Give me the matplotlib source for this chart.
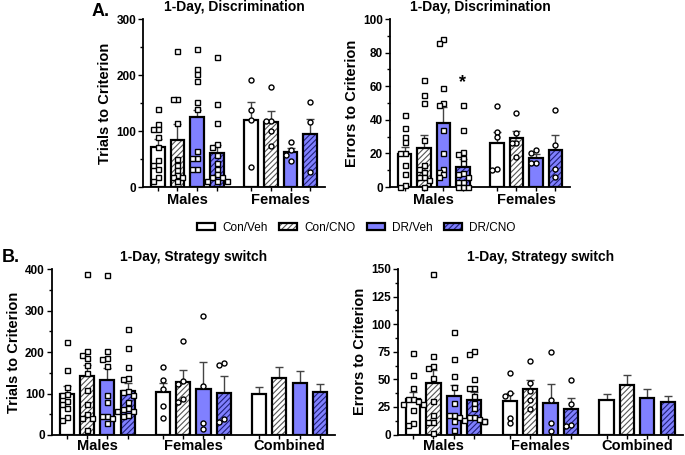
import matplotlib.pyplot as plt
from matplotlib.patches import Patch
from matplotlib.ticker import MultipleLocator

plt.rcParams['font.family'] = ['Liberation Sans', 'DejaVu Sans']
plt.rcParams['font.weight'] = 'bold'
plt.rcParams['axes.labelweight'] = 'bold'
plt.rcParams['hatch.linewidth'] = 0.8

conditions = ['Con/Veh', 'Con/CNO', 'DR/Veh', 'DR/CNO']
groups_a = ['Males', 'Females']
groups_b = ['Males', 'Females', 'Combined']

# A. 1-Day, Discrimination - trials to criterion
disc_trials_mean = [[72, 84, 125, 60], [120, 117, 62, 94]]
disc_trials_sem = [[14, 28, 13, 15], [32, 18, 7, 27]]
disc_trials_pts = [
    [[139, 112, 103, 103, 90, 72, 48, 40, 33, 17, 11],
     [243, 157, 157, 114, 50, 40, 30, 21, 18, 18, 10],
     [246, 211, 202, 190, 151, 139, 64, 52, 52, 33, 33],
     [233, 148, 114, 76, 72, 57, 43, 32, 23, 18, 17, 11, 11, 10]],
    [[191, 137, 120, 35],
     [179, 118, 118, 100, 74],
     [80, 66, 58, 46],
     [151, 117, 27]],
]

# A. 1-Day, Discrimination - errors to criterion
disc_errors_mean = [[19.5, 23.5, 38, 12], [26, 29, 17, 22]]
disc_errors_sem = [[4.5, 7.5, 9.5, 4.5], [7, 4.5, 2.5, 9]]
disc_errors_pts = [
    [[43, 35, 30, 27, 20, 20, 13, 8, 1, 0],
     [64, 55, 50, 28, 13, 11, 9, 6, 6, 4, 0],
     [88, 86, 59, 50, 49, 34, 20, 11, 9, 8, 6],
     [49, 34, 21, 19.5, 17.5, 14, 8.5, 8, 6, 3, 3, 0, 0, 0]],
    [[48, 33, 30, 11, 10],
     [44, 32, 26, 26, 18],
     [22, 20, 14, 14],
     [46, 25, 11, 6]],
]

# B. 1-Day, Strategy switch - trials to criterion
switch_trials_mean = [[99, 143, 132, 107], [103, 129, 112, 102], [100, 138, 126, 105]]
switch_trials_sem = [[20, 27, 30, 18], [22, 28, 64, 41], [15, 25, 29, 17]]
switch_trials_pts = [
    [[224, 157, 117, 100, 96, 82, 76, 66, 43, 36],
     [389, 204, 194, 187, 169, 149, 109, 75, 51, 42, 40, 12],
     [386, 202, 186, 184, 167, 97, 79, 45, 45, 40, 29],
     [256, 211, 164, 137, 136, 106, 103, 97, 79, 65, 63, 57, 57, 48, 45]],
    [[164, 132, 112, 71, 41],
     [227, 130, 124, 86, 79],
     [287, 119, 29, 14],
     [175, 168, 38, 31]],
    [[], [], [], []],
]

# B. 1-Day, Strategy switch - errors to criterion
switch_errors_mean = [[32.5, 46.5, 35, 31.5], [30, 41, 29, 23], [31, 45, 33, 29.5]]
switch_errors_sem = [[6, 12, 9.5, 7], [8, 8, 17, 10], [6, 9, 8, 5.5]]
switch_errors_pts = [
    [[74, 54, 42, 32, 32, 30, 28, 28, 22, 10, 9],
     [145, 71, 62, 60, 51, 30, 18, 11, 11, 1.5],
     [93, 68, 53, 43, 29, 18, 18, 16, 12, 4],
     [76, 73, 50, 42, 42, 35, 29, 24, 16, 16, 14, 13, 12, 12]],
    [[56, 38, 35, 15, 10],
     [67, 47, 39, 31, 23],
     [75, 31, 10, 3.5],
     [49, 28, 9, 8]],
    [[], [], [], []],
]

BLUE = '#8080ff'
face = ['white', 'white', BLUE, BLUE]
hatch = [None, '//////', None, '//////']
hatch_col = ['black', '#555555', 'black', '#20207a']
GAP = 4.75
WIDTH = 0.7


def swarm(vals, thresh, step=0.25):
    placed = []
    offs = []
    for v in vals:
        for c in [0, -step, step, -2 * step, 2 * step]:
            if all(abs(v - pv) >= thresh or abs(c - po) >= step * 0.5 for pv, po in placed):
                break
        placed.append((v, c))
        offs.append(c)
    return offs


def draw_panel(ax, groups, means, sems, pts, ymax, major, minor, ylabel, title, xpad):
    ticks = []
    for g, grp in enumerate(groups):
        marker = 's' if grp == 'Males' else 'o'
        for i in range(4):
            x = g * GAP + i
            ticks.append(x)
            m = means[g][i]
            ax.errorbar(x, m, yerr=[[0], [sems[g][i]]], color='#444444', lw=1,
                        capsize=3, capthick=1, zorder=1.5)
            ax.bar(x, m, WIDTH, color=face[i], hatch=hatch[i],
                   edgecolor=hatch_col[i], linewidth=0, zorder=2)
            ax.bar(x, m, WIDTH, fill=False, edgecolor='black', linewidth=1.6, zorder=3)
            vals = pts[g][i]
            if vals:
                offs = swarm(vals, ymax * 0.028)
                ax.plot([x + o for o in offs], vals, marker, ms=3.6, mfc='white',
                        mec='black', mew=1.0, ls='none', zorder=4, clip_on=False)
    ax.set_xlim(-0.75, (len(groups) - 1) * GAP + 3.75)
    ax.set_ylim(0, ymax)
    ax.set_xticks(ticks, labels=[''] * len(ticks))
    ax.set_xticks([g * GAP + 1.5 for g in range(len(groups))], labels=groups, minor=True)
    ax.tick_params(axis='x', which='minor', length=0, labelsize=10.5, pad=xpad)
    ax.tick_params(axis='x', which='major', length=3, width=1)
    ax.yaxis.set_major_locator(MultipleLocator(major))
    ax.yaxis.set_minor_locator(MultipleLocator(minor))
    ax.tick_params(axis='y', which='major', length=3.5, width=1, labelsize=8.5, pad=1.5)
    ax.tick_params(axis='y', which='minor', length=2.5, width=1)
    for lbl in ax.get_yticklabels() + ax.get_xticklabels(minor=True):
        lbl.set_fontweight('bold')
    for s in ['top', 'right']:
        ax.spines[s].set_visible(False)
    for s in ['left', 'bottom']:
        ax.spines[s].set_linewidth(1.3)
    ax.set_ylabel(ylabel, fontsize=10.5, fontweight='bold', labelpad=3)
    ax.set_title(title, fontsize=10, fontweight='bold', pad=6)


fig = plt.figure(figsize=(6.85, 4.55), dpi=100)

ax1 = fig.add_axes([0.2088, 0.589, 0.2657, 0.369])
draw_panel(ax1, groups_a, disc_trials_mean, disc_trials_sem, disc_trials_pts,
           300, 100, 50, 'Trials to Criterion', '1-Day, Discrimination', 4)

ax2 = fig.add_axes([0.5693, 0.589, 0.2628, 0.369])
draw_panel(ax2, groups_a, disc_errors_mean, disc_errors_sem, disc_errors_pts,
           100, 20, 10, 'Errors to Criterion', '1-Day, Discrimination', 4)
ax2.text(3, 62, '*', ha='center', va='center', fontsize=13, fontweight='bold')

ax3 = fig.add_axes([0.0755, 0.044, 0.4136, 0.364])
draw_panel(ax3, groups_b, switch_trials_mean, switch_trials_sem, switch_trials_pts,
           400, 100, 50, 'Trials to Criterion', '1-Day, Strategy switch', 3)

ax4 = fig.add_axes([0.5806, 0.045, 0.4165, 0.364])
draw_panel(ax4, groups_b, switch_errors_mean, switch_errors_sem, switch_errors_pts,
           150, 25, 12.5, 'Errors to Criterion', '1-Day, Strategy switch', 3)

handles = []
for i in range(4):
    handles.append((Patch(facecolor=face[i], hatch=hatch[i], edgecolor=hatch_col[i], lw=0),
                    Patch(fill=False, edgecolor='black', lw=1.6)))
fig.legend(handles, conditions, loc='center', bbox_to_anchor=(0.52, 0.499), ncol=4,
           frameon=False, prop={'weight': 'normal', 'size': 8.5}, handlelength=1.5,
           handleheight=0.55, columnspacing=1.0, handletextpad=0.6)

fig.text(92 / 685, 1 - 12 / 455, 'A.', fontsize=13, fontweight='bold', va='center')
fig.text(0.002, 1 - 258 / 455, 'B.', fontsize=13, fontweight='bold', va='center')

fig.savefig('out.png', dpi=100)
